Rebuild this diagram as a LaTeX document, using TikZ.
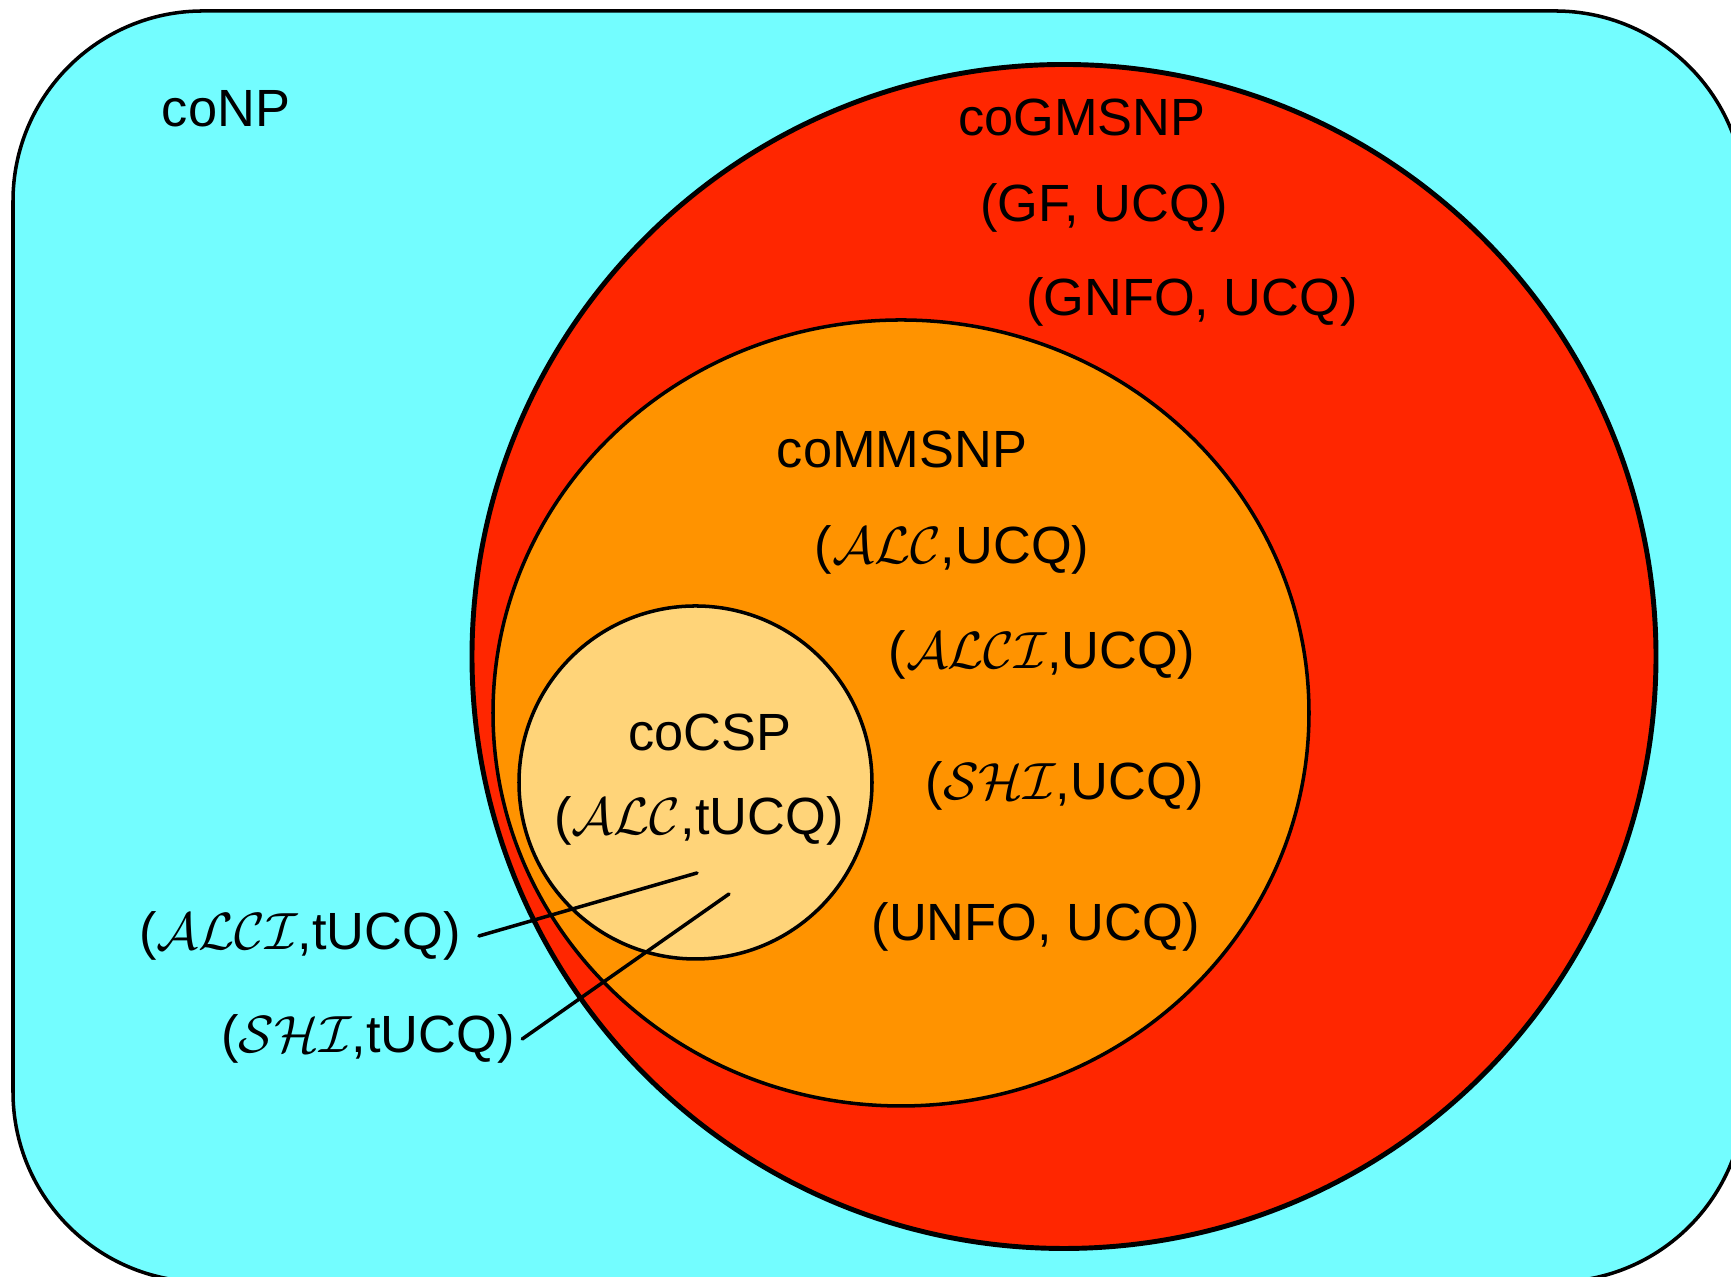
\documentclass[tikz,border=0pt]{standalone}
\usepackage{fix-cm}
\usepackage{fontspec}
\setmainfont{Liberation Sans}
\definecolor{ice}{RGB}{115,253,255}
\definecolor{maraschino}{RGB}{255,38,0}
\definecolor{tangerine}{RGB}{255,147,0}
\definecolor{cantaloupe}{RGB}{255,212,121}
\begin{document}
\begin{tikzpicture}[line join = round, line cap = round, font=\fontsize{14.9}{18}\selectfont, every node/.style={inner sep=2pt}, vong/.style={draw, line width=1pt}]
	\clip (0,0) rectangle (17.31,12.77);
	%Vẽ khung coNP
	\draw[vong, fill=ice, rounded corners=1.9cm] (0.13,12.66) rectangle (17.45,-0.05);
	%Vẽ các lớp lồng nhau
	\draw[vong, line width=1.4pt, fill=maraschino] (10.64,6.205) circle (5.92);
	\draw[vong, fill=tangerine] (9.01,5.64) ellipse (4.08 and 3.93);
	\draw[vong, fill=cantaloupe] (6.955,4.945) circle (1.765);
	%Ghi nhãn
	\node (conp) at (2.26,11.68) {coNP};
	\node (cogmsnp) at (10.82,11.59) {coGMSNP};
	\node (gf) at (11.04,10.69) {(GF, UCQ)};
	\node (gnfo) at (11.92,9.75) {(GNFO, UCQ)};
	\node (commsnp) at (9.02,8.28) {coMMSNP};
	\node (alc) at (9.52,7.27) {($\mathcal{ALC}$,UCQ)};
	\node (alci) at (10.42,6.22) {($\mathcal{ALCI}$,UCQ)};
	\node (shi) at (10.65,4.91) {($\mathcal{SHI}$,UCQ)};
	\node (unfo) at (10.36,3.50) {(UNFO, UCQ)};
	\node (cocsp) at (7.10,5.45) {coCSP};
	\node (alct) at (6.99,4.56) {($\mathcal{ALC}$,tUCQ)};
	\node (alcit) at (3.00,3.41) {($\mathcal{ALCI}$,tUCQ)};
	\node (shit) at (3.68,2.38) {($\mathcal{SHI}$,tUCQ)};
	%Vẽ các đường nối
	\coordinate (t1) at (6.97,4.04);
	\coordinate (t2) at (7.29,3.83);
	\draw[line width=1pt] ([xshift=3pt]alcit.east) -- (t1);
	\draw[line width=1pt] (shit.east) -- (t2);
\end{tikzpicture}
\end{document}
